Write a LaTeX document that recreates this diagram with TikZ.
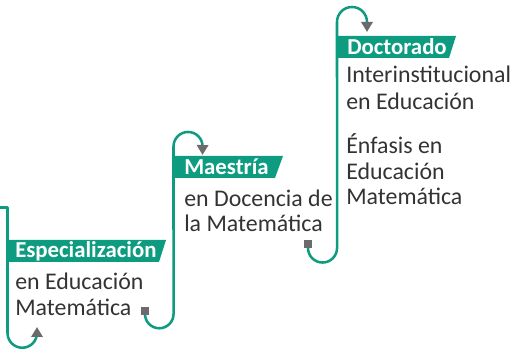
\documentclass[tikz,border=0pt]{standalone}
\usepackage{fontspec}
\setmainfont{Carlito}
\usetikzlibrary{arrows.meta}
\definecolor{teal1}{HTML}{0E9C80}
\definecolor{tgray}{HTML}{6B6B6E}
\definecolor{txt}{HTML}{333333}
\begin{document}
\begin{tikzpicture}[x=0.75pt,y=-0.75pt,
  flow/.style={draw=teal1,line width=1.9pt,line join=round},
  tip/.style={-{Triangle[width=8.4pt,length=7.5pt,color=tgray]}},
  bar/.style={fill=teal1},
  lab/.style={anchor=base west,inner sep=0pt,text=white,font=\fontsize{17.1}{18}\selectfont\bfseries},
  body/.style={anchor=base west,inner sep=0pt,text=txt,font=\fontsize{17.9}{19.5}\selectfont},
  sq/.style={fill=tgray,minimum size=6pt,inner sep=0pt}]
\useasboundingbox (0,0) rectangle (512,352);
% bars
\fill[bar] (7.5,240) -- (166,240) -- (159,262) -- (7.5,262) -- cycle;
\fill[bar] (174,156) -- (283,156) -- (275,178) -- (174,178) -- cycle;
\fill[bar] (337,36) -- (456,36) -- (449,58) -- (337,58) -- cycle;
% labels
\node[lab] (l1) at (15,258) {Especialización};
\node[lab] (l2) at (184,174.5) {Maestría};
\node[lab] (l3) at (347,54.5) {Doctorado};
% body texts
\node[body] (e1) at (15,290) {en Educación};
\node[body] (e2) at (15,316) {Matemática};
\node[body] (m1) at (184,207) {en Docencia de};
\node[body] (m2) at (184,232) {la Matemática};
\node[body] (d1) at (346,83) {Interinstitucional};
\node[body] (d2) at (346,110) {en Educación};
\node[body] (d3) at (346,154) {Énfasis en};
\node[body] (d4) at (346,180) {Educación};
\node[body] (d5) at (346,205) {Matemática};
% connectors
\coordinate (s0) at (0,207.5);
\coordinate (t1) at (37,327);
\coordinate (t2) at (202.5,155);
\coordinate (t3) at (367,32);
\coordinate (c1) at (145,311);
\coordinate (c2) at (308,244);
\draw[flow,tip] (s0) -- (7.5,207.5) -- (7.5,333)
  arc[start angle=180,end angle=360,radius=11.06pt] -- (t1);
\draw[flow,tip] (c1) -- (145,314)
  arc[start angle=180,end angle=360,radius=10.7pt] -- (173.5,146.5)
  arc[start angle=180,end angle=0,radius=10.9pt] -- (t2);
\draw[flow,tip] (c2) -- (308,248)
  arc[start angle=180,end angle=360,radius=10.9pt] -- (337,22)
  arc[start angle=180,end angle=0,radius=11.25pt] -- (t3);
\node[sq] (q1) at (c1) {};
\node[sq] (q2) at (c2) {};
\end{tikzpicture}
\end{document}
